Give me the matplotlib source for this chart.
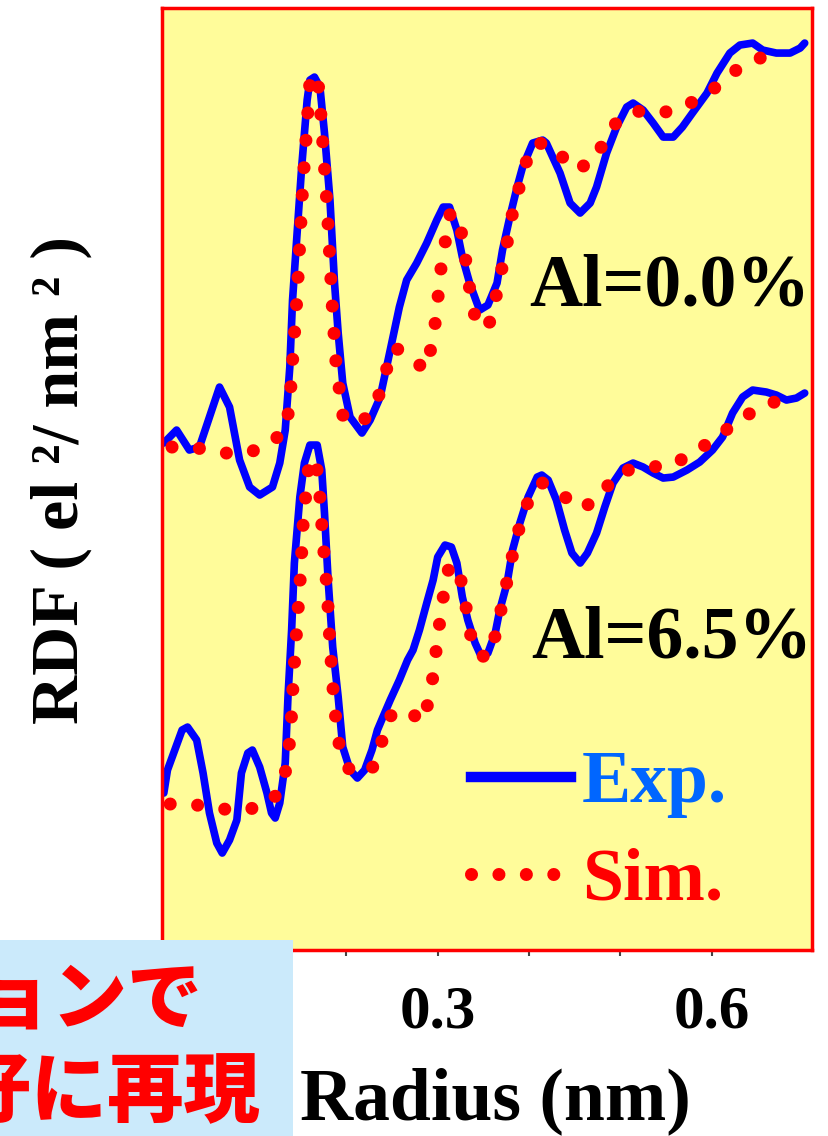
import matplotlib
matplotlib.use("Agg")
import matplotlib.pyplot as plt
from matplotlib.lines import Line2D
from matplotlib.patches import Rectangle

plt.rcParams["font.family"] = ["Liberation Serif", "DejaVu Serif"]
plt.rcParams["font.weight"] = "bold"

# Radius (nm) and RDF (arb. units) for Al = 0.0 %
R_EXP_0 = [0.000, 0.014, 0.028, 0.039, 0.050, 0.061, 0.072, 0.083, 0.094, 0.105,
           0.119, 0.127, 0.133, 0.138, 0.141, 0.146, 0.151, 0.157, 0.160, 0.165,
           0.171, 0.176, 0.182, 0.187, 0.191, 0.196, 0.204, 0.217, 0.226, 0.237,
           0.248, 0.258, 0.266, 0.277, 0.288, 0.299, 0.306, 0.313, 0.321, 0.327,
           0.335, 0.343, 0.346, 0.355, 0.365, 0.371, 0.379, 0.387, 0.393, 0.404,
           0.415, 0.419, 0.434, 0.445, 0.456, 0.467, 0.474, 0.485, 0.496, 0.507,
           0.514, 0.525, 0.536, 0.547, 0.558, 0.568, 0.579, 0.595, 0.606, 0.620,
           0.631, 0.645, 0.656, 0.671, 0.686, 0.697, 0.702]
G_EXP_0 = [0.07, 0.20, 0.00, 0.03, 0.33, 0.63, 0.43, -0.10, -0.37, -0.45,
           -0.37, -0.13, 0.20, 0.83, 1.50, 2.17, 2.83, 3.50, 3.70, 3.73,
           3.63, 3.17, 2.50, 1.67, 1.17, 0.67, 0.33, 0.17, 0.30, 0.53,
           1.00, 1.43, 1.70, 1.87, 2.07, 2.30, 2.43, 2.43, 2.20, 1.93,
           1.67, 1.47, 1.40, 1.45, 1.67, 2.00, 2.33, 2.63, 2.83, 3.07,
           3.10, 3.07, 2.77, 2.47, 2.37, 2.47, 2.63, 2.97, 3.23, 3.43,
           3.47, 3.40, 3.27, 3.13, 3.13, 3.23, 3.37, 3.57, 3.77, 3.97,
           4.05, 4.07, 4.00, 3.97, 3.97, 4.02, 4.07]

R_SIM_0 = [0.009, 0.037, 0.065, 0.092, 0.118, 0.134, 0.138, 0.142, 0.146, 0.149,
           0.152, 0.156, 0.160, 0.168, 0.171, 0.175, 0.179, 0.182, 0.185, 0.189,
           0.193, 0.197, 0.220, 0.235, 0.243, 0.252, 0.271, 0.286, 0.294, 0.298,
           0.304, 0.309, 0.314, 0.324, 0.329, 0.333, 0.337, 0.344, 0.357, 0.364,
           0.370, 0.376, 0.381, 0.388, 0.395, 0.407, 0.429, 0.446, 0.468, 0.483,
           0.498, 0.524, 0.553, 0.579, 0.605, 0.627, 0.653, 0.681]
G_SIM_0 = [0.03, 0.02, -0.03, -0.03, 0.07, 0.22, 0.48, 1.02, 1.54, 2.08,
           2.61, 3.14, 3.68, 3.76, 3.49, 2.96, 2.42, 1.89, 1.36, 0.82,
           0.56, 0.29, 0.31, 0.53, 0.78, 1.03, 0.93, 0.80, 1.06, 1.32,
           1.85, 2.12, 2.38, 2.28, 2.01, 1.75, 1.48, 1.22, 1.28, 1.54,
           1.80, 2.07, 2.33, 2.58, 2.84, 3.08, 3.03, 2.81, 2.86, 3.09,
           3.31, 3.40, 3.38, 3.48, 3.63, 3.80, 3.92, 3.94]

# Radius (nm) and RDF (arb. units) for Al = 6.5 %
R_EXP_65 = [0.000, 0.004, 0.012, 0.020, 0.026, 0.036, 0.043, 0.050, 0.058, 0.064,
            0.072, 0.080, 0.085, 0.092, 0.097, 0.105, 0.113, 0.118, 0.122, 0.127,
            0.133, 0.136, 0.140, 0.143, 0.149, 0.154, 0.160, 0.168, 0.173, 0.176,
            0.180, 0.185, 0.191, 0.196, 0.204, 0.212, 0.220, 0.228, 0.234, 0.240,
            0.248, 0.258, 0.267, 0.273, 0.280, 0.288, 0.295, 0.300, 0.308, 0.315,
            0.321, 0.327, 0.333, 0.341, 0.348, 0.355, 0.363, 0.368, 0.376, 0.382,
            0.390, 0.399, 0.409, 0.414, 0.421, 0.430, 0.439, 0.447, 0.456, 0.464,
            0.474, 0.483, 0.492, 0.503, 0.514, 0.525, 0.536, 0.547, 0.558, 0.573,
            0.587, 0.601, 0.612, 0.623, 0.634, 0.645, 0.660, 0.671, 0.682, 0.693,
            0.702]
G_EXP_65 = [0.12, 0.35, 0.55, 0.75, 0.78, 0.65, 0.32, -0.08, -0.38, -0.48,
            -0.35, -0.15, 0.32, 0.52, 0.55, 0.38, 0.12, -0.08, -0.13, 0.02,
            0.42, 1.08, 1.75, 2.42, 3.08, 3.42, 3.60, 3.60, 3.35, 2.92,
            2.25, 1.58, 1.08, 0.58, 0.35, 0.27, 0.35, 0.55, 0.75, 0.88,
            1.05, 1.25, 1.45, 1.55, 1.75, 2.02, 2.25, 2.48, 2.60, 2.58,
            2.42, 2.08, 1.85, 1.62, 1.48, 1.52, 1.72, 1.95, 2.22, 2.55,
            2.82, 3.08, 3.28, 3.30, 3.25, 3.05, 2.75, 2.52, 2.42, 2.52,
            2.72, 2.98, 3.22, 3.37, 3.42, 3.38, 3.32, 3.27, 3.28, 3.35,
            3.43, 3.55, 3.68, 3.92, 4.08, 4.15, 4.13, 4.10, 4.05, 4.07,
            4.12]

R_SIM_65 = [0.007, 0.036, 0.064, 0.091, 0.118, 0.131, 0.136, 0.139, 0.142, 0.146,
            0.150, 0.153, 0.156, 0.159, 0.166, 0.170, 0.174, 0.179, 0.182, 0.186,
            0.189, 0.193, 0.205, 0.229, 0.239, 0.248, 0.265, 0.284, 0.291, 0.296,
            0.299, 0.303, 0.307, 0.313, 0.324, 0.330, 0.334, 0.341, 0.355, 0.364,
            0.370, 0.376, 0.382, 0.389, 0.398, 0.413, 0.436, 0.459, 0.481, 0.498,
            0.526, 0.555, 0.581, 0.605, 0.628, 0.652, 0.680]
G_SIM_65 = [0.01, 0.00, -0.04, -0.05, 0.03, 0.22, 0.48, 0.74, 1.28, 1.81,
            2.34, 2.88, 3.14, 3.41, 3.47, 3.21, 2.68, 2.14, 1.61, 1.08,
            0.81, 0.55, 0.32, 0.38, 0.64, 0.89, 0.96, 0.83, 1.08, 1.35,
            1.61, 1.88, 2.14, 2.41, 2.31, 2.05, 1.78, 1.52, 1.47, 1.72,
            1.98, 2.24, 2.50, 2.76, 3.01, 3.23, 3.10, 2.96, 3.13, 3.33,
            3.38, 3.39, 3.53, 3.67, 3.84, 3.97, 4.07]

OFFSET_0 = 3.55  # vertical shift of the Al=0.0% pair
X_TICKS = [0.1, 0.2, 0.3, 0.4, 0.5, 0.6]
X_TICK_LABELS = ["", "", "0.3", "", "", "0.6"]

EXP_BLUE = "#0000ff"
SIM_RED = "#ff0000"
DOTS = (0, (0.001, 2.1))

fig = plt.figure(figsize=(8.29, 11.36), dpi=100)
ax = fig.add_axes([0.1954, 0.1637, 0.7841, 0.8292])
ax.set_facecolor("#fffc9a")

ax.plot(R_EXP_0, [g + OFFSET_0 for g in G_EXP_0], color=EXP_BLUE, lw=5.5,
        solid_joinstyle="round", solid_capstyle="round")
ax.plot(R_SIM_0, [g + OFFSET_0 for g in G_SIM_0], color=SIM_RED, lw=9.4,
        linestyle=DOTS, dash_capstyle="round")
ax.plot(R_EXP_65, G_EXP_65, color=EXP_BLUE, lw=5.5,
        solid_joinstyle="round", solid_capstyle="round")
ax.plot(R_SIM_65, G_SIM_65, color=SIM_RED, lw=9.4,
        linestyle=DOTS, dash_capstyle="round")

ax.set_xlim(-0.002, 0.710)
ax.set_ylim(-1.45, 7.97)
ax.set_yticks([])
ax.set_xticks(X_TICKS)
ax.set_xticklabels(X_TICK_LABELS, fontsize=44, fontweight="bold")
ax.tick_params(axis="x", direction="out", length=4, width=1.5,
               color="#444444", pad=21)
for sp in ax.spines.values():
    sp.set_color("red")
    sp.set_linewidth(2.5)

ax.text(0.400, 5.00, "Al=0.0%", fontsize=53, fontweight="bold", ha="left",
        va="baseline")
ax.text(0.403, 1.48, "Al=6.5%", fontsize=53, fontweight="bold", ha="left",
        va="baseline")

handles = [Line2D([], [], color=EXP_BLUE, lw=7.5),
           Line2D([], [], color=SIM_RED, lw=9.4, linestyle=DOTS,
                  dash_capstyle="round")]
leg = ax.legend(handles, ["Exp.", "Sim."], loc="upper left",
                bbox_to_anchor=(0.475, 0.212), frameon=False,
                prop={"size": 53, "weight": "bold"}, handlelength=1.36,
                handletextpad=0.15, labelspacing=0.4, borderpad=0,
                borderaxespad=0)
for txt, col in zip(leg.get_texts(), ["#0066ff", SIM_RED]):
    txt.set_color(col)

fig.text(495 / 829, 17 / 1136, "Radius (nm)", fontsize=53, fontweight="bold",
         ha="center", va="baseline")
fig.text(61 / 829, 1 - 480 / 1136, "RDF ( el ²/ nm ² )", fontsize=49,
         fontweight="bold", rotation=90, ha="center", va="center")

# note box in the lower-left corner
fig.patches.append(Rectangle((0, 0), 293 / 829, 196 / 1136,
                             transform=fig.transFigure, facecolor="#cbeafb",
                             edgecolor="none", zorder=2))
jp = ["Noto Sans CJK JP", "DejaVu Sans"]
fig.text(203 / 829, 1 - 1000 / 1136, "シミュレーションで", family=jp,
         fontsize=54, fontweight="black", color=SIM_RED, ha="right",
         va="center", zorder=3)
fig.text(260 / 829, 1 - 1093 / 1136, "良好に再現", family=jp,
         fontsize=55, fontweight="black", color=SIM_RED, ha="right",
         va="center", zorder=3)

fig.savefig("out.png", dpi=100)
